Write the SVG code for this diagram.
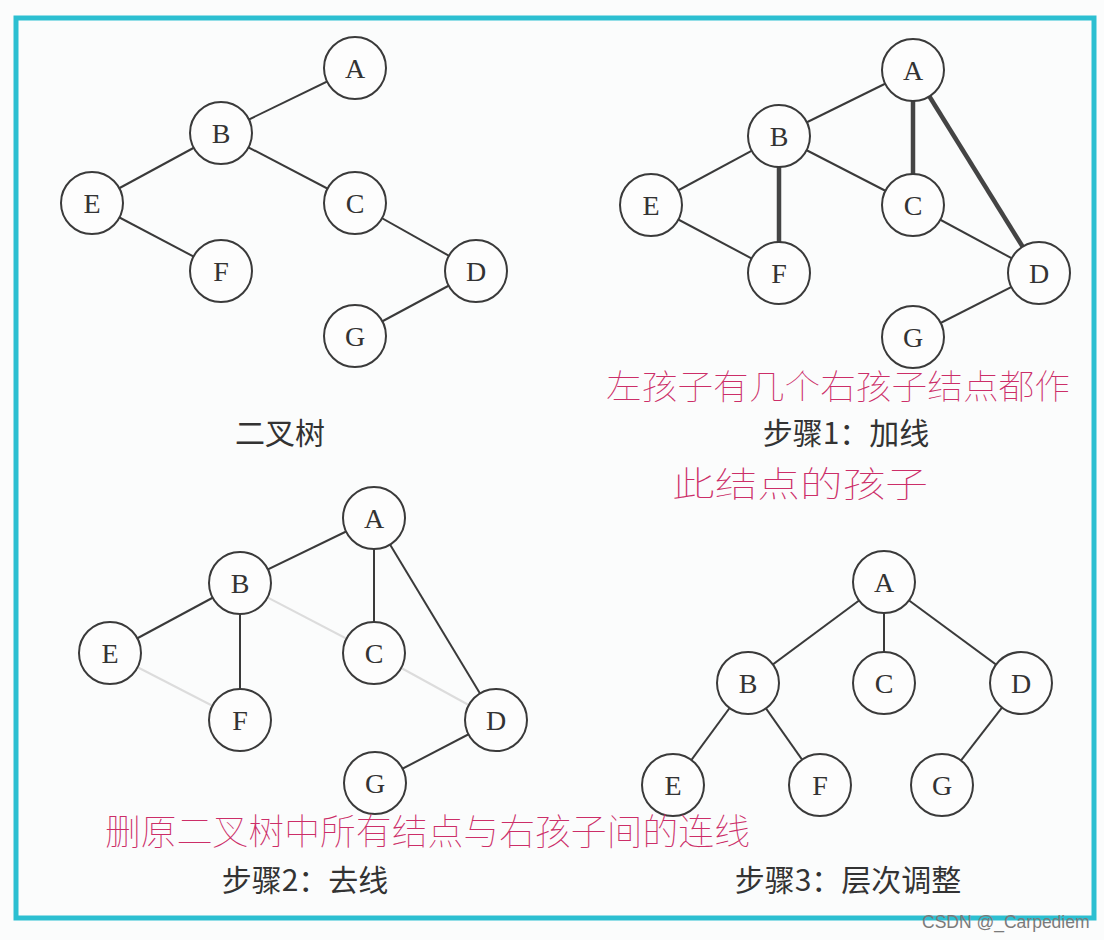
<svg xmlns="http://www.w3.org/2000/svg" width="1104" height="940" viewBox="0 0 1104 940">
<style>
.bg{fill:#fbfcfc}
.frame{fill:none;stroke:#2cbfd1;stroke-width:5}
.n circle{fill:#fdfdfd;stroke:#3a3a3a;stroke-width:2}
.n text{font-family:"Liberation Serif","DejaVu Serif",serif;font-size:28px;fill:#333;text-anchor:middle;dominant-baseline:central}
.e line{stroke:#3a3a3a;stroke-width:2}
.e line.thick{stroke:#444;stroke-width:4.5}
.e line.faint{stroke:#dcdcdc;stroke-width:2}
.cap{font-family:"Noto Sans CJK SC","Liberation Serif",serif;font-size:30px;font-weight:400;fill:#333;text-anchor:middle}
.hw{font-family:"Noto Sans CJK SC",sans-serif;font-weight:100;fill:#cc2e68}
.wm{font-family:"Liberation Sans",Arial,sans-serif;font-size:17.5px;fill:#7a7a7a}
</style>
<rect class="bg" x="0" y="0" width="1104" height="940"/>
<rect class="frame" x="16" y="18" width="1078" height="900"/>

<!-- Tree 1: binary tree -->
<g id="tree1-connectors" class="e">
<line x1="355" y1="68" x2="221" y2="133"/>
<line x1="221" y1="133" x2="92" y2="203"/>
<line x1="221" y1="133" x2="355" y2="203"/>
<line x1="92" y1="203" x2="221" y2="271"/>
<line x1="355" y1="203" x2="476" y2="271"/>
<line x1="476" y1="271" x2="355" y2="336"/>
</g>
<g id="t1-A" class="n"><circle cx="355" cy="68" r="31"/><text x="355" y="68">A</text></g>
<g id="t1-B" class="n"><circle cx="221" cy="133" r="31"/><text x="221" y="133">B</text></g>
<g id="t1-E" class="n"><circle cx="92" cy="203" r="31"/><text x="92" y="203">E</text></g>
<g id="t1-C" class="n"><circle cx="355" cy="203" r="31"/><text x="355" y="203">C</text></g>
<g id="t1-F" class="n"><circle cx="221" cy="271" r="31"/><text x="221" y="271">F</text></g>
<g id="t1-D" class="n"><circle cx="476" cy="271" r="31"/><text x="476" y="271">D</text></g>
<g id="t1-G" class="n"><circle cx="355" cy="336" r="31"/><text x="355" y="336">G</text></g>
<text class="cap" x="280" y="444">二叉树</text>

<!-- Tree 2: add lines -->
<g id="tree2-connectors" class="e">
<line x1="913" y1="70" x2="779" y2="136"/>
<line x1="779" y1="136" x2="651" y2="205"/>
<line x1="779" y1="136" x2="913" y2="205"/>
<line x1="651" y1="205" x2="779" y2="273"/>
<line x1="913" y1="205" x2="1039" y2="273"/>
<line x1="1039" y1="273" x2="913" y2="337"/>
<line class="thick" x1="779" y1="136" x2="779" y2="273"/>
<line class="thick" x1="913" y1="70" x2="913" y2="205"/>
<line class="thick" x1="913" y1="70" x2="1039" y2="273"/>
</g>
<g id="t2-A" class="n"><circle cx="913" cy="70" r="31"/><text x="913" y="70">A</text></g>
<g id="t2-B" class="n"><circle cx="779" cy="136" r="31"/><text x="779" y="136">B</text></g>
<g id="t2-E" class="n"><circle cx="651" cy="205" r="31"/><text x="651" y="205">E</text></g>
<g id="t2-C" class="n"><circle cx="913" cy="205" r="31"/><text x="913" y="205">C</text></g>
<g id="t2-F" class="n"><circle cx="779" cy="273" r="31"/><text x="779" y="273">F</text></g>
<g id="t2-D" class="n"><circle cx="1039" cy="273" r="31"/><text x="1039" y="273">D</text></g>
<g id="t2-G" class="n"><circle cx="913" cy="337" r="31"/><text x="913" y="337">G</text></g>
<text class="cap" x="846" y="444">步骤1：加线</text>

<!-- Tree 3: remove lines -->
<g id="tree3-connectors" class="e">
<line class="faint" x1="240" y1="583" x2="374" y2="653"/>
<line class="faint" x1="110" y1="653" x2="240" y2="720"/>
<line class="faint" x1="374" y1="653" x2="496" y2="720"/>
<line x1="374" y1="518" x2="240" y2="583"/>
<line x1="240" y1="583" x2="110" y2="653"/>
<line x1="240" y1="583" x2="240" y2="720"/>
<line x1="374" y1="518" x2="374" y2="653"/>
<line x1="374" y1="518" x2="496" y2="720"/>
<line x1="496" y1="720" x2="375" y2="783"/>
</g>
<g id="t3-A" class="n"><circle cx="374" cy="518" r="31"/><text x="374" y="518">A</text></g>
<g id="t3-B" class="n"><circle cx="240" cy="583" r="31"/><text x="240" y="583">B</text></g>
<g id="t3-E" class="n"><circle cx="110" cy="653" r="31"/><text x="110" y="653">E</text></g>
<g id="t3-C" class="n"><circle cx="374" cy="653" r="31"/><text x="374" y="653">C</text></g>
<g id="t3-F" class="n"><circle cx="240" cy="720" r="31"/><text x="240" y="720">F</text></g>
<g id="t3-D" class="n"><circle cx="496" cy="720" r="31"/><text x="496" y="720">D</text></g>
<g id="t3-G" class="n"><circle cx="375" cy="783" r="31"/><text x="375" y="783">G</text></g>
<text class="cap" x="305" y="891">步骤2：去线</text>

<!-- Tree 4: level adjustment -->
<g id="tree4-connectors" class="e">
<line x1="884" y1="582" x2="748" y2="683"/>
<line x1="884" y1="582" x2="884" y2="683"/>
<line x1="884" y1="582" x2="1021" y2="683"/>
<line x1="748" y1="683" x2="673" y2="785"/>
<line x1="748" y1="683" x2="820" y2="785"/>
<line x1="1021" y1="683" x2="942" y2="785"/>
</g>
<g id="t4-A" class="n"><circle cx="884" cy="582" r="31"/><text x="884" y="582">A</text></g>
<g id="t4-B" class="n"><circle cx="748" cy="683" r="31"/><text x="748" y="683">B</text></g>
<g id="t4-C" class="n"><circle cx="884" cy="683" r="31"/><text x="884" y="683">C</text></g>
<g id="t4-D" class="n"><circle cx="1021" cy="683" r="31"/><text x="1021" y="683">D</text></g>
<g id="t4-E" class="n"><circle cx="673" cy="785" r="31"/><text x="673" y="785">E</text></g>
<g id="t4-F" class="n"><circle cx="820" cy="785" r="31"/><text x="820" y="785">F</text></g>
<g id="t4-G" class="n"><circle cx="942" cy="785" r="31"/><text x="942" y="785">G</text></g>
<text class="cap" x="848" y="891">步骤3：层次调整</text>

<!-- Handwritten annotations -->
<text class="hw" x="606" y="399" font-size="34" textLength="464" lengthAdjust="spacingAndGlyphs">左孩子有几个右孩子结点都作</text>
<text class="hw" x="672" y="497" font-size="35" textLength="256" lengthAdjust="spacingAndGlyphs">此结点的孩子</text>
<text class="hw" x="105" y="845" font-size="36" textLength="645" lengthAdjust="spacingAndGlyphs">删原二叉树中所有结点与右孩子间的连线</text>

<text class="wm" x="922" y="928">CSDN @_Carpediem</text>
</svg>
